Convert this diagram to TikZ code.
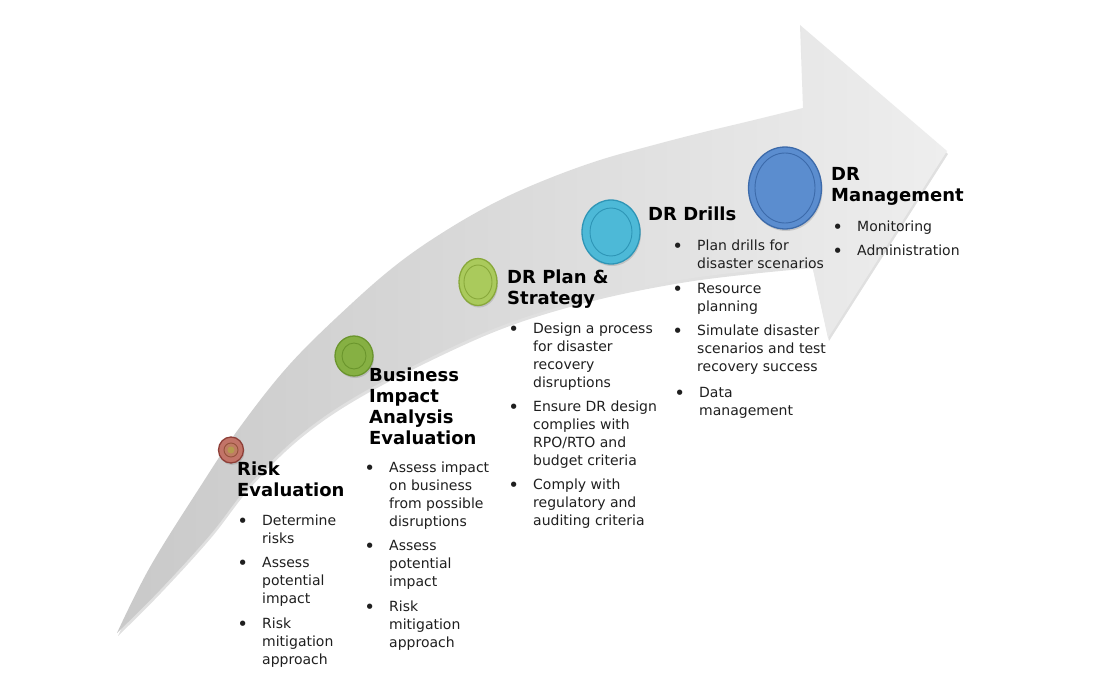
\documentclass[tikz,border=0pt]{standalone}
\usepackage{fontspec}
\setmainfont{DejaVu Sans}
\usetikzlibrary{shadows,shapes.geometric}
\definecolor{arrowL}{HTML}{C9C9C9}
\definecolor{arrowR}{HTML}{EEEEEE}
\definecolor{riskF}{HTML}{C27468}
\definecolor{riskD}{HTML}{8E3F38}
\definecolor{riskC}{HTML}{B59A4E}
\definecolor{bizF}{HTML}{86B043}
\definecolor{bizD}{HTML}{6A952C}
\definecolor{planF}{HTML}{AACA5C}
\definecolor{planD}{HTML}{88A83A}
\definecolor{drillF}{HTML}{4DB9D7}
\definecolor{drillD}{HTML}{2E95B6}
\definecolor{mgmtF}{HTML}{5B8DCF}
\definecolor{mgmtD}{HTML}{3C6AAA}
\newcommand\blk[1]{\begin{tabular}[t]{@{}l@{}}#1\end{tabular}}
\newcommand\itm[1]{\llap{\raisebox{-2pt}{\scalebox{1.3}{\textbullet}}\hspace{14pt}}\blk{#1}}
\begin{document}
\begin{tikzpicture}[x=1pt,y=-1pt,
  headtext/.style={anchor=base west,inner sep=0pt,font=\fontsize{18}{21}\selectfont\bfseries,text=black},
  itemtext/.style={anchor=base west,inner sep=0pt,font=\fontsize{14}{18}\selectfont,text=black!88},
  btn/.style={ellipse,inner sep=0pt,line width=1.3pt,
    drop shadow={opacity=0.3,shadow xshift=1pt,shadow yshift=-2pt}},
  ring/.style={line width=0.9pt},
]
\useasboundingbox (0,0) rectangle (1119,685);
\fill[white] (0,0) rectangle (1119,685);
% arrow shadow
\fill[black,opacity=0.12,xshift=1pt,yshift=-3pt]
  (117,633) -- plot[smooth,tension=0.6] coordinates {(117,633) (150,567) (200,487) (240,427) (290,364) (350,305) (400,262) (450,228) (500,200) (550,178) (600,160) (650,146) (700,133) (750,121) (803,108)}
  -- (800,25) -- (947,151) -- (828,338) -- (812,265)
  -- plot[smooth,tension=0.6] coordinates {(812,265) (750,271) (680,280) (600,296) (520,319) (450,348) (360,394) (300,435) (250,484) (210,535) (160,590) (117,633)} -- cycle;
% arrow body
\shade[left color=arrowL,right color=arrowR]
  (117,633) -- plot[smooth,tension=0.6] coordinates {(117,633) (150,567) (200,487) (240,427) (290,364) (350,305) (400,262) (450,228) (500,200) (550,178) (600,160) (650,146) (700,133) (750,121) (803,108)}
  -- (800,25) -- (947,151) -- (828,338) -- (812,265)
  -- plot[smooth,tension=0.6] coordinates {(812,265) (750,271) (680,280) (600,296) (520,319) (450,348) (360,394) (300,435) (250,484) (210,535) (160,590) (117,633)} -- cycle;

% buttons
\node[btn,fill=riskF,draw=riskD,minimum width=25pt,minimum height=26pt] (c1) at (231,450) {};
\draw[ring,draw=riskD!80!riskC,fill=riskF!80!riskC] (c1.center) ellipse[x radius=7pt,y radius=7pt];
\fill[riskC] (c1.center) ellipse[x radius=3.5pt,y radius=3.5pt];
\node[btn,fill=bizF,draw=bizD,minimum width=38pt,minimum height=40pt] (c2) at (354,356) {};
\draw[ring,draw=bizD] (c2.center) ellipse[x radius=12pt,y radius=13pt];
\node[btn,fill=planF,draw=planD,minimum width=38pt,minimum height=47pt] (c3) at (478,282) {};
\draw[ring,draw=planD] (c3.center) ellipse[x radius=14pt,y radius=17pt];
\node[btn,fill=drillF,draw=drillD,minimum width=58pt,minimum height=64pt] (c4) at (611,232) {};
\draw[ring,draw=drillD] (c4.center) ellipse[x radius=21pt,y radius=24pt];
\node[btn,fill=mgmtF,draw=mgmtD,minimum width=73pt,minimum height=82pt] (c5) at (785,188) {};
\draw[ring,draw=mgmtD] (c5.center) ellipse[x radius=30pt,y radius=35pt];

% headings
\node[headtext] (h1) at (237,475) {\blk{Risk\\Evaluation}};
\node[headtext] (h2) at (369,381) {\blk{Business\\Impact\\Analysis\\Evaluation}};
\node[headtext] (h3) at (507,283) {\blk{DR Plan \&\\Strategy}};
\node[headtext] (h4) at (648,220) {\blk{DR Drills}};
\node[headtext] (h5) at (831,180) {\blk{DR\\Management}};

% Risk Evaluation items
\node[itemtext] (r1) at (262,525) {\itm{Determine\\risks}};
\node[itemtext] (r2) at (262,567) {\itm{Assess\\potential\\impact}};
\node[itemtext] (r3) at (262,628) {\itm{Risk\\mitigation\\approach}};
% BIA items
\node[itemtext] (b1) at (389,472) {\itm{Assess impact\\on business\\from possible\\disruptions}};
\node[itemtext] (b2) at (389,550) {\itm{Assess\\potential\\impact}};
\node[itemtext] (b3) at (389,611) {\itm{Risk\\mitigation\\approach}};
% Plan items
\node[itemtext] (p1) at (533,333) {\itm{Design a process\\for disaster\\recovery\\disruptions}};
\node[itemtext] (p2) at (533,411) {\itm{Ensure DR design\\complies with\\RPO/RTO and\\budget criteria}};
\node[itemtext] (p3) at (533,489) {\itm{Comply with\\regulatory and\\auditing criteria}};
% Drills items
\node[itemtext] (d1) at (697,250) {\itm{Plan drills for\\disaster scenarios}};
\node[itemtext] (d2) at (697,293) {\itm{Resource\\planning}};
\node[itemtext] (d3) at (697,335) {\itm{Simulate disaster\\scenarios and test\\recovery success}};
\node[itemtext] (d4) at (699,397) {\itm{Data\\management}};
% Management items
\node[itemtext] (m1) at (857,231) {\itm{Monitoring}};
\node[itemtext] (m2) at (857,255) {\itm{Administration}};
\end{tikzpicture}
\end{document}
